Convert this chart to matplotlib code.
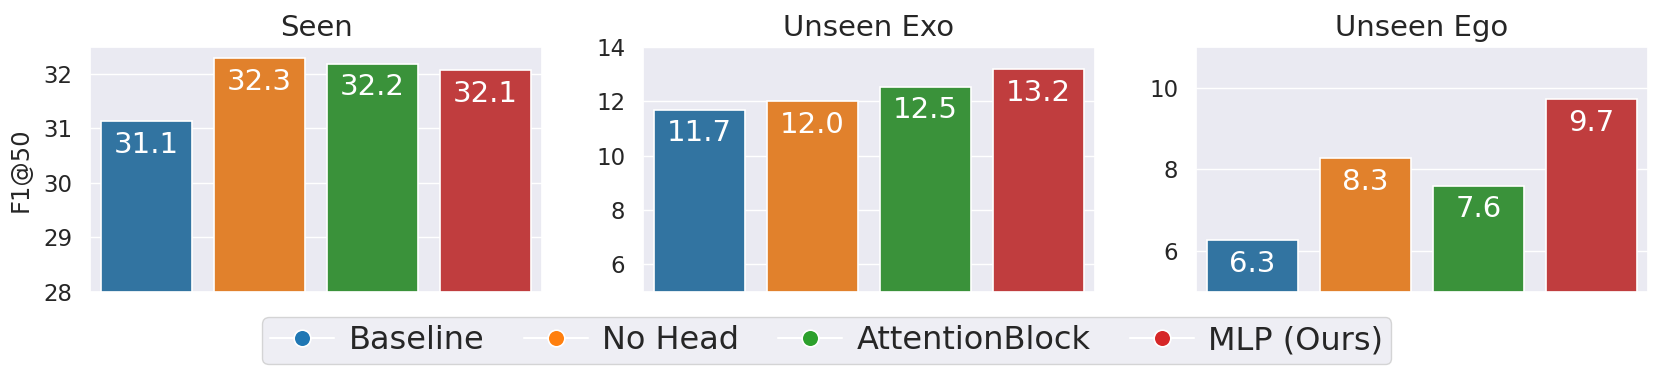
import matplotlib
matplotlib.use("Agg")
import matplotlib.pyplot as plt
from matplotlib.lines import Line2D
import seaborn as sns

sns.set_theme(style="darkgrid")
plt.rcParams['font.family'] = ['DejaVu Sans']

methods = ["Baseline", "No Head", "AttentionBlock", "MLP (Ours)"]
titles = ["Seen", "Unseen Exo", "Unseen Ego"]
seen = [31.13, 32.29, 32.19, 32.07]
unseen_exo = [11.69, 12.0, 12.53, 13.18]
unseen_ego = [6.27, 8.27, 7.6, 9.72]
ylims = [(28, 32.5), (5, 14), (5, 11)]

bar_colors = ["#3274a1", "#e1812c", "#3a923a", "#c03d3e"]
legend_colors = ["#1f77b4", "#ff7f0e", "#2ca02c", "#d62728"]

W, H = 1661, 381
fig = plt.figure(figsize=(W / 100, H / 100), dpi=100)

boxes = [(90, 542), (643, 1095), (1196, 1648)]
top_px, bot_px = 46.7, 291.7
datasets = [seen, unseen_exo, unseen_ego]

for i, (vals, (l, r)) in enumerate(zip(datasets, boxes)):
    ax = fig.add_axes([l / W, 1 - bot_px / H, (r - l) / W, (bot_px - top_px) / H])
    x = list(range(len(methods)))
    ax.bar(x, vals, width=0.8, color=bar_colors, edgecolor="white", linewidth=1.2)
    ax.set_xlim(-0.5, 3.5)
    ax.set_ylim(*ylims[i])
    ax.set_xticks(x)
    ax.set_xticklabels([])
    ax.xaxis.grid(False)
    ax.tick_params(axis="x", length=0)
    ax.tick_params(axis="y", labelsize=16.5, length=0, pad=12.7)
    ax.set_title(titles[i], fontsize=21, pad=7.7)
    for xi, v in zip(x, vals):
        ax.annotate(f"{v:.1f}", xy=(xi, v), xytext=(0, -7), textcoords="offset points",
                    ha="center", va="top", color="white", fontsize=21)
    if i == 0:
        ax.set_ylabel("F1@50", fontsize=17.5, labelpad=8)

handles = [Line2D([0], [0], color="white", lw=1.5, marker="o", markersize=12,
                  markerfacecolor=c, markeredgecolor="white", markeredgewidth=1.2)
           for c in legend_colors]
fig.legend(handles, methods, loc="upper center", bbox_to_anchor=(0.4977, 0.1672),
           borderaxespad=0, ncol=4, fontsize=23, frameon=True, handlelength=2.0,
           columnspacing=1.23, handletextpad=0.45, borderpad=0.25)

fig.savefig("out.png", dpi=100)
